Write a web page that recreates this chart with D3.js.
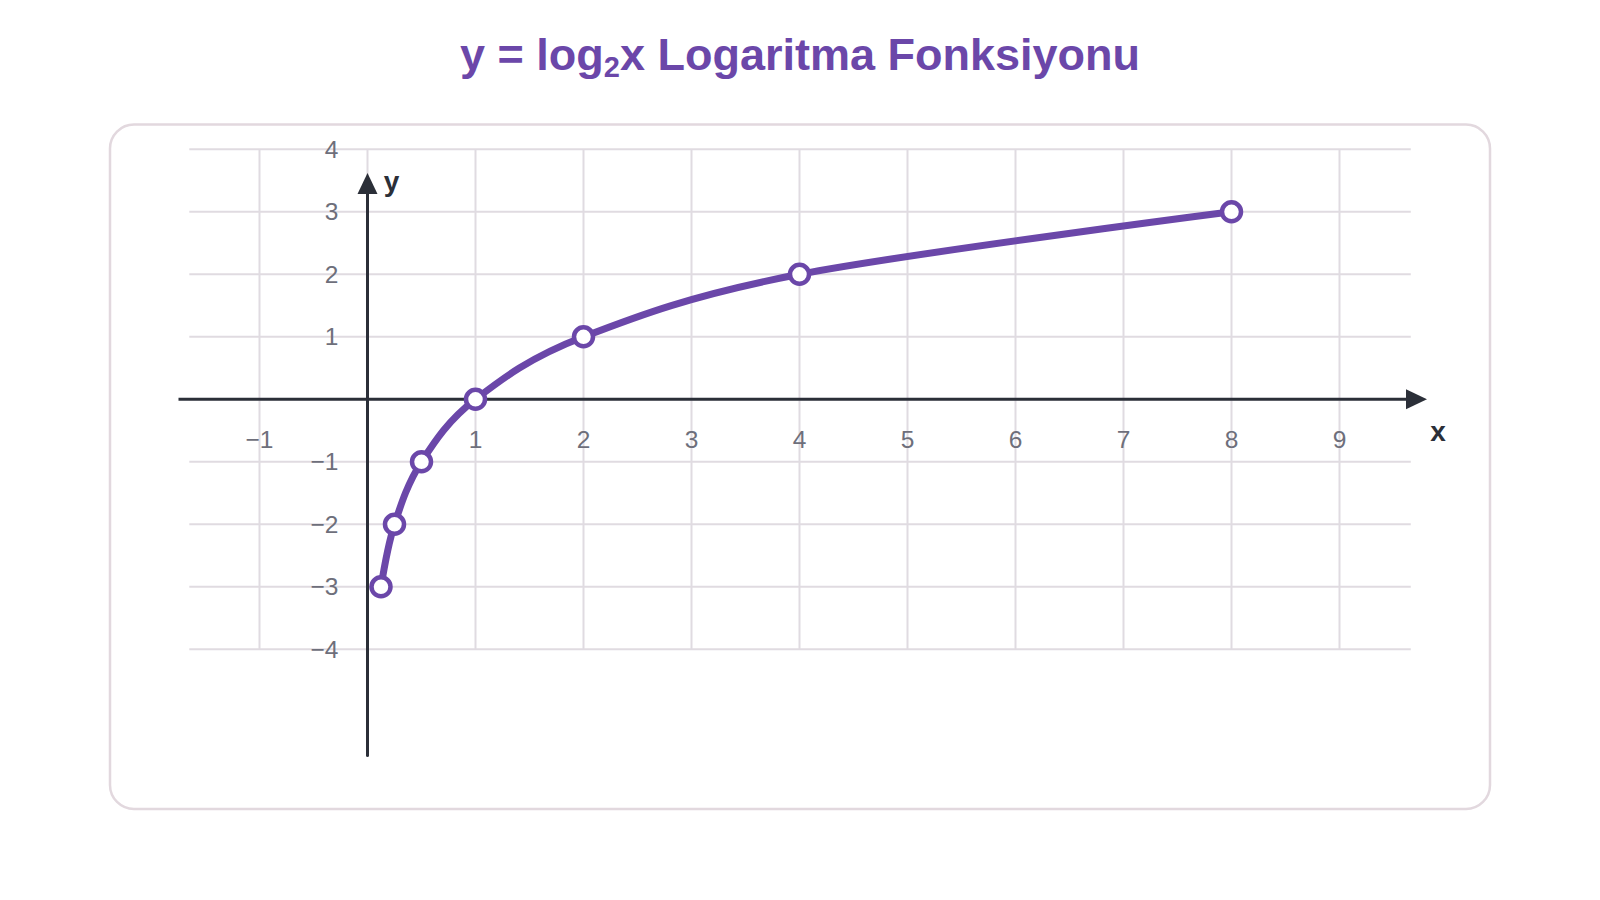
<!DOCTYPE html>
<html>
<head>
<meta charset="utf-8">
<script src="https://cdn.jsdelivr.net/npm/d3@7"></script>
<style>
  html, body { margin: 0; padding: 0; background: #ffffff; }
  svg { display: block; font-family: "Liberation Sans", Arial, Helvetica, sans-serif; }
</style>
</head>
<body>
<svg id="chart" width="1600" height="900"></svg>
<script>
// ---- Data ----
const pointX = [0.125, 0.25, 0.5, 1, 2, 4, 8];
const pointY = [-3, -2, -1, 0, 1, 2, 3];
const xTicks = [-1, 1, 2, 3, 4, 5, 6, 7, 8, 9];
const yTicks = [-4, -3, -2, -1, 1, 2, 3, 4];
const xGrid = [-1, 0, 1, 2, 3, 4, 5, 6, 7, 8, 9];
const yGrid = [-4, -3, -2, -1, 0, 1, 2, 3, 4];

const purple = "#6b47a9";
const axisColor = "#2b2f38";
const gridColor = "#e0dbe1";
const tickColor = "#6e6f7b";

const svg = d3.select("#chart");

// card
svg.append("rect")
  .attr("x", 110).attr("y", 124.5)
  .attr("width", 1380).attr("height", 684.5)
  .attr("rx", 24).attr("ry", 24)
  .attr("fill", "#ffffff")
  .attr("stroke", "#e2d8de")
  .attr("stroke-width", 2.5);

// title
const title = svg.append("text")
  .attr("x", 800).attr("y", 70)
  .attr("text-anchor", "middle")
  .attr("fill", purple)
  .attr("font-weight", "bold")
  .attr("font-size", 45);
title.append("tspan").text("y = log");
title.append("tspan").attr("font-size", 29).attr("dy", 7).text("2");
title.append("tspan").attr("dy", -7).text("x Logaritma Fonksiyonu");

// scales
const x = d3.scaleLinear().domain([-1, 9]).range([259.5, 1339.5]);
const y = d3.scaleLinear().domain([-4, 4]).range([649.3, 149.3]);

// grid
const grid = svg.append("g");
grid.selectAll("line.h").data(yGrid).join("line")
  .attr("x1", x(-1.65)).attr("x2", x(9.66))
  .attr("y1", d => y(d)).attr("y2", d => y(d))
  .attr("stroke", gridColor).attr("stroke-width", 2);
grid.selectAll("line.v").data(xGrid).join("line")
  .attr("x1", d => x(d)).attr("x2", d => x(d))
  .attr("y1", y(4)).attr("y2", y(-4))
  .attr("stroke", gridColor).attr("stroke-width", 2);

// tick labels
svg.append("g").selectAll("text").data(xTicks).join("text")
  .attr("x", d => x(d)).attr("y", y(0) + 40)
  .attr("text-anchor", "middle").attr("dominant-baseline", "central")
  .attr("fill", tickColor).attr("font-size", 24.5)
  .text(d => d < 0 ? "\u2212" + Math.abs(d) : d);
svg.append("g").selectAll("text").data(yTicks).join("text")
  .attr("x", x(0) - 29).attr("y", d => y(d))
  .attr("text-anchor", "end").attr("dominant-baseline", "central")
  .attr("fill", tickColor).attr("font-size", 24.5)
  .text(d => d < 0 ? "\u2212" + Math.abs(d) : d);

// axes
const x0 = x(-1.75), x1 = x(9.81) ;
svg.append("line")
  .attr("x1", x0).attr("x2", x1 - 18)
  .attr("y1", y(0)).attr("y2", y(0))
  .attr("stroke", axisColor).attr("stroke-width", 3);
svg.append("path")
  .attr("d", `M${x1},${y(0)} L${x1 - 21},${y(0) - 10} L${x1 - 21},${y(0) + 10} Z`)
  .attr("fill", axisColor);
const yb = y(-5.7), yt = y(3.62);
svg.append("line")
  .attr("x1", x(0)).attr("x2", x(0))
  .attr("y1", yb).attr("y2", yt + 18)
  .attr("stroke", axisColor).attr("stroke-width", 3)
  .attr("stroke-linecap", "round");
svg.append("path")
  .attr("d", `M${x(0)},${yt} L${x(0) - 10},${yt + 21} L${x(0) + 10},${yt + 21} Z`)
  .attr("fill", axisColor);

svg.append("text")
  .attr("x", x(0) + 24).attr("y", yt + 8)
  .attr("text-anchor", "middle").attr("dominant-baseline", "central")
  .attr("font-weight", "bold").attr("font-size", 28).attr("fill", axisColor)
  .text("y");
svg.append("text")
  .attr("x", x1 + 11).attr("y", y(0) + 32)
  .attr("text-anchor", "middle").attr("dominant-baseline", "central")
  .attr("font-weight", "bold").attr("font-size", 28).attr("fill", axisColor)
  .text("x");

// curve
const pts = pointX.map((v, i) => [v, pointY[i]]);
const line = d3.line().x(d => x(d[0])).y(d => y(d[1])).curve(d3.curveCardinal.tension(0));
svg.append("path")
  .attr("d", line(pts))
  .attr("fill", "none").attr("stroke", purple)
  .attr("stroke-width", 7).attr("stroke-linecap", "round").attr("stroke-linejoin", "round");

svg.append("g").selectAll("circle").data(pts).join("circle")
  .attr("cx", d => x(d[0])).attr("cy", d => y(d[1]))
  .attr("r", 9.5)
  .attr("fill", "#ffffff").attr("stroke", purple).attr("stroke-width", 4.5);
</script>
</body>
</html>
